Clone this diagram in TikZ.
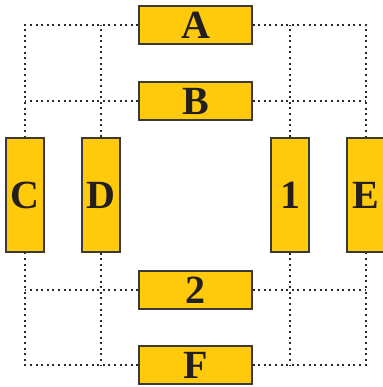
\documentclass[tikz,border=0pt]{standalone}
\usepackage{fontspec}
\setmainfont{Liberation Serif}
\definecolor{boxyellow}{HTML}{FFC90C}
\definecolor{edgegray}{HTML}{3A3A3A}
\definecolor{dotgray}{HTML}{2A2A2A}
\definecolor{inkgray}{HTML}{231F20}
\begin{document}
\begin{tikzpicture}[x=1pt,y=1pt,
  hbox/.style={draw=edgegray,line width=1.3pt,fill=boxyellow,text=inkgray,minimum width=113pt,minimum height=38pt,inner sep=0pt,font=\fontsize{40}{40}\selectfont\bfseries},
  vbox/.style={hbox,minimum width=38pt,minimum height=114pt},
  link/.style={draw=dotgray,line width=1.6pt,dash pattern=on 2pt off 3.6pt}]
\useasboundingbox (0,0) rectangle (382,-387);
\node[hbox] (A) at (195.5,-25) {A};
\node[hbox] (B) at (195.5,-101) {B};
\node[hbox] (two) at (195.5,-290) {2};
\node[hbox] (F) at (195.5,-365) {F};
\node[vbox] (C) at (25,-195) {C};
\node[vbox] (D) at (101,-195) {D};
\node[vbox] (one) at (290,-195) {1};
\node[vbox] (E) at (366,-195) {E};
% top left
\draw[link] (A.west) -| (C.north);
\draw[link] (B.west) -- (B.west -| C.north);
\draw[link] (D.north) -- (D.north |- A.west);
% top right
\draw[link] (A.east) -| (E.north);
\draw[link] (B.east) -- (B.east -| E.north);
\draw[link] (one.north) -- (one.north |- A.east);
% bottom left
\draw[link] (F.west) -| (C.south);
\draw[link] (two.west) -- (two.west -| C.south);
\draw[link] (D.south) -- (D.south |- F.west);
% bottom right
\draw[link] (F.east) -| (E.south);
\draw[link] (two.east) -- (two.east -| E.south);
\draw[link] (one.south) -- (one.south |- F.east);
\end{tikzpicture}
\end{document}
